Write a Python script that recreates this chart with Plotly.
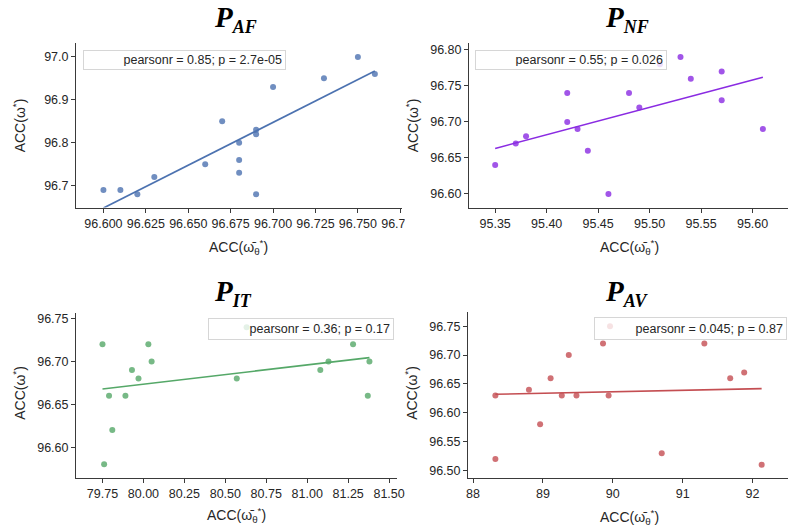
import numpy as np
import plotly.graph_objects as go

W, H = 806, 529

# ---------------- data ----------------
af_x = [96.600, 96.610, 96.620, 96.630, 96.660, 96.670, 96.680, 96.680, 96.680,
        96.690, 96.690, 96.690, 96.700, 96.730, 96.750, 96.760]
af_y = [96.69, 96.69, 96.68, 96.72, 96.75, 96.85, 96.80, 96.76, 96.73,
        96.83, 96.82, 96.68, 96.93, 96.95, 97.00, 96.96]

nf_x = [95.35, 95.37, 95.38, 95.42, 95.42, 95.43, 95.44, 95.46, 95.48,
        95.49, 95.51, 95.53, 95.54, 95.57, 95.57, 95.61]
nf_y = [96.64, 96.67, 96.68, 96.74, 96.70, 96.69, 96.66, 96.60, 96.74,
        96.72, 96.78, 96.79, 96.76, 96.77, 96.73, 96.69]

it_x = [79.75, 79.76, 79.79, 79.81, 79.89, 79.93, 79.97, 80.03, 80.05,
        80.57, 80.63, 81.08, 81.13, 81.28, 81.37, 81.38]
it_y = [96.72, 96.58, 96.66, 96.62, 96.66, 96.69, 96.68, 96.72, 96.70,
        96.68, 96.74, 96.69, 96.70, 96.72, 96.66, 96.70]

av_x = [88.32, 88.32, 88.80, 88.96, 89.11, 89.27, 89.37, 89.48, 89.86,
        89.94, 89.96, 90.70, 91.31, 91.68, 91.88, 92.13]
av_y = [96.52, 96.63, 96.64, 96.58, 96.66, 96.63, 96.70, 96.63, 96.72,
        96.63, 96.75, 96.53, 96.72, 96.66, 96.67, 96.51]

titles = ["AF", "NF", "IT", "AV"]
stats = ["pearsonr = 0.85; p = 2.7e-05", "pearsonr = 0.55; p = 0.026",
         "pearsonr = 0.36; p = 0.17", "pearsonr = 0.045; p = 0.87"]
colors = ["#4c72b0", "#8a2be2", "#55a868", "#c44e52"]
xs = [af_x, nf_x, it_x, av_x]
ys = [af_y, nf_y, it_y, av_y]

# ---------------- layout geometry (pixels) ----------------
def px(v):
    return v / W

def py(v):
    return 1 - v / H

panels = [
    dict(xd=(76, 410), yd=(42, 207), xr=(96.5839, 96.7759), yr=(96.6488, 97.0326),
         xdt=0.025, xf=".3f", ydt=0.1, yf=".1f", x0=96.6, y0=96.7,
         box=(83, 286, 49, 69), title=(239, -2), xt=(243, 246), yt=(17, 125)),
    dict(xd=(479, 806), yd=(42, 207), xr=(95.3247, 95.6344), yr=(96.581, 96.8097),
         xdt=0.05, xf=".2f", ydt=0.05, yf=".2f", x0=95.35, y0=96.6,
         box=(485, 677, 49, 69), title=(641, -2), xt=(643, 246), yt=(420, 125)),
    dict(xd=(76, 405), yd=(313, 478), xr=(79.589, 81.548), yr=(96.564, 96.756),
         xdt=0.25, xf=".2f", ydt=0.05, yf=".2f", x0=79.75, y0=96.6,
         box=(211, 397, 318, 340), title=(237, 273), xt=(240, 515), yt=(18, 393)),
    dict(xd=(478, 806), yd=(312, 478), xr=(87.93, 92.507), yr=(96.4867, 96.774),
         xdt=1, xf="d", ydt=0.05, yf=".2f", x0=88, y0=96.5,
         box=(607, 800, 317, 340), title=(640, 273), xt=(643, 517), yt=(420, 393)),
]

FONT = "Liberation Sans, Arial, sans-serif"
TXT = "#262626"
SPINE = "#3a3a3a"

fig = go.Figure()
annotations = []
layout_axes = {}

for i, (p, x, y, c) in enumerate(zip(panels, xs, ys, colors)):
    n = i + 1
    xa = "x" if n == 1 else f"x{n}"
    ya = "y" if n == 1 else f"y{n}"
    fig.add_trace(go.Scatter(x=x, y=y, mode="markers", xaxis=xa, yaxis=ya,
                             marker=dict(color=c, size=6, opacity=0.8, line=dict(width=0)),
                             showlegend=False, hoverinfo="skip"))
    k, b = np.polyfit(np.array(x), np.array(y), 1)
    lx = np.array([min(x), max(x)])
    fig.add_trace(go.Scatter(x=lx, y=k * lx + b, mode="lines", xaxis=xa, yaxis=ya,
                             line=dict(color=c, width=1.6), showlegend=False, hoverinfo="skip"))

    common = dict(showgrid=False, zeroline=False, showline=True, linecolor=SPINE,
                  linewidth=1.25, ticks="outside", ticklen=4, tickwidth=1.1,
                  tickcolor=SPINE, tickfont=dict(family=FONT, size=12.5, color=TXT))
    xkey = "xaxis" if n == 1 else f"xaxis{n}"
    ykey = "yaxis" if n == 1 else f"yaxis{n}"
    layout_axes[xkey] = dict(domain=[px(p["xd"][0]), px(p["xd"][1])], range=list(p["xr"]),
                             anchor=ya, tick0=p["x0"], dtick=p["xdt"], tickformat=p["xf"],
                             **common)
    layout_axes[ykey] = dict(domain=[py(p["yd"][1]), py(p["yd"][0])], range=list(p["yr"]),
                             anchor=xa, tick0=p["y0"], dtick=p["ydt"], tickformat=p["yf"],
                             **common)

    # legend-like box
    bx0, bx1, by0, by1 = p["box"]
    pad = 3
    annotations.append(dict(
        xref="paper", yref="paper", x=px(bx0), y=py(by0), xanchor="left", yanchor="top",
        text=stats[i], showarrow=False, align="right", valign="middle",
        width=(bx1 - bx0) - 2 * (pad + 1), height=(by1 - by0) - 2 * (pad + 1),
        borderpad=pad, borderwidth=1, bordercolor="#d6d6d6",
        bgcolor="rgba(255,255,255,0.8)",
        font=dict(family=FONT, size=12.5, color=TXT)))

    # panel title
    tx, ty = p["title"]
    annotations.append(dict(
        xref="paper", yref="paper", x=px(tx), y=py(ty), xanchor="center", yanchor="top",
        text=f"<b><i>P<sub><span style='font-size:18px'>{titles[i]}</span></sub></i></b>",
        showarrow=False, font=dict(family="Liberation Serif, DejaVu Serif, serif", size=29, color="#000000")))

    # axis titles
    xtx, xty = p["xt"]
    annotations.append(dict(
        xref="paper", yref="paper", x=px(xtx), y=py(xty), xanchor="center", yanchor="middle",
        text="ACC(\u03c9\u0304<sub>\u03b8</sub><sup>*</sup>)", showarrow=False,
        font=dict(family=FONT, size=14, color=TXT)))
    ytx, yty = p["yt"]
    annotations.append(dict(
        xref="paper", yref="paper", x=px(ytx), y=py(yty), xanchor="center", yanchor="middle",
        text="ACC(\u03c9<sup>*</sup>)", showarrow=False, textangle=-90,
        font=dict(family=FONT, size=14, color=TXT)))

# white patch that crops the last tick label of the first panel, as in the reference
shapes = [dict(type="rect", xref="paper", yref="paper",
               x0=px(413), x1=px(477), y0=py(236), y1=py(209),
               fillcolor="white", line=dict(width=0), layer="above")]

fig.update_layout(width=W, height=H, margin=dict(l=0, r=0, t=0, b=0),
                  paper_bgcolor="white", plot_bgcolor="white",
                  annotations=annotations, shapes=shapes, **layout_axes)

fig.write_html("out.html", config={"displayModeBar": False},
               post_script="document.body.style.margin='0';document.body.style.padding='0';")
